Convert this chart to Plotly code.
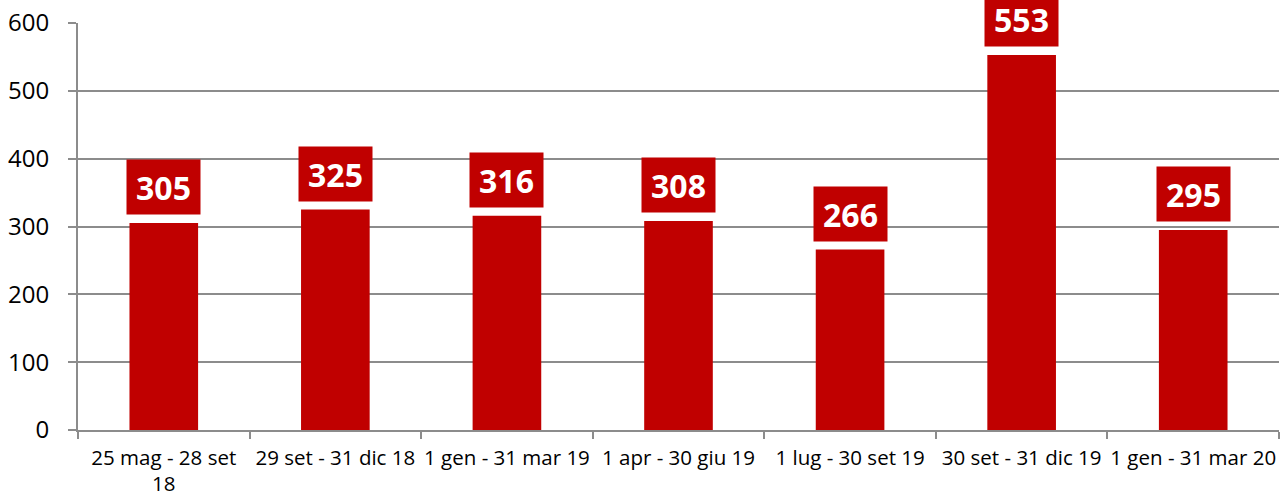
import plotly.graph_objects as go

categories = [
    "25 mag - 28 set<br>18",
    "29 set - 31 dic 18",
    "1 gen - 31 mar 19",
    "1 apr - 30 giu 19",
    "1 lug - 30 set 19",
    "30 set - 31 dic 19",
    "1 gen - 31 mar 20",
]
values = [305, 325, 316, 308, 266, 553, 295]
y_ticks = [0, 100, 200, 300, 400, 500, 600]

RED = "#C00000"
GRID = "#8c8c8c"

fig = go.Figure()
fig.add_trace(go.Bar(
    x=categories, y=values,
    marker=dict(color=RED, line=dict(width=0)),
    width=0.4,
    hoverinfo="skip",
))

for c, v in zip(categories, values):
    fig.add_annotation(
        x=c, y=v, xref="x", yref="y",
        text=f"<b>{v}</b>", showarrow=False,
        yanchor="bottom", yshift=8,
        bgcolor=RED, width=73, height=54, borderpad=0,
        font=dict(family="Open Sans", size=32, color="white"),
    )

fig.update_layout(
    width=1281, height=497,
    margin=dict(l=78, r=2, t=23, b=67, autoexpand=False),
    paper_bgcolor="white", plot_bgcolor="white",
    showlegend=False,
    font=dict(family="Open Sans", color="black"),
)
fig.update_yaxes(
    range=[0, 600], tickvals=y_ticks, automargin=False,
    showgrid=True, gridcolor=GRID, gridwidth=2,
    showline=True, linecolor=GRID, linewidth=2,
    ticks="outside", ticklen=8, tickcolor=GRID, tickwidth=2,
    tickfont=dict(size=24, family="Open Sans", color="black"),
    ticklabelstandoff=14, zeroline=False,
)
fig.update_xaxes(
    automargin=False,
    showline=True, linecolor=GRID, linewidth=2,
    ticks="outside", ticklen=7, tickcolor=GRID, tickwidth=2,
    tickson="boundaries",
    tickfont=dict(size=20.5, family="Open Sans", color="black"),
    ticklabelstandoff=8,
    showgrid=False, tickangle=0,
)

fig.write_html(
    "out.html",
    config={"displayModeBar": False, "staticPlot": True},
    post_script="document.body.style.margin='0';",
)
